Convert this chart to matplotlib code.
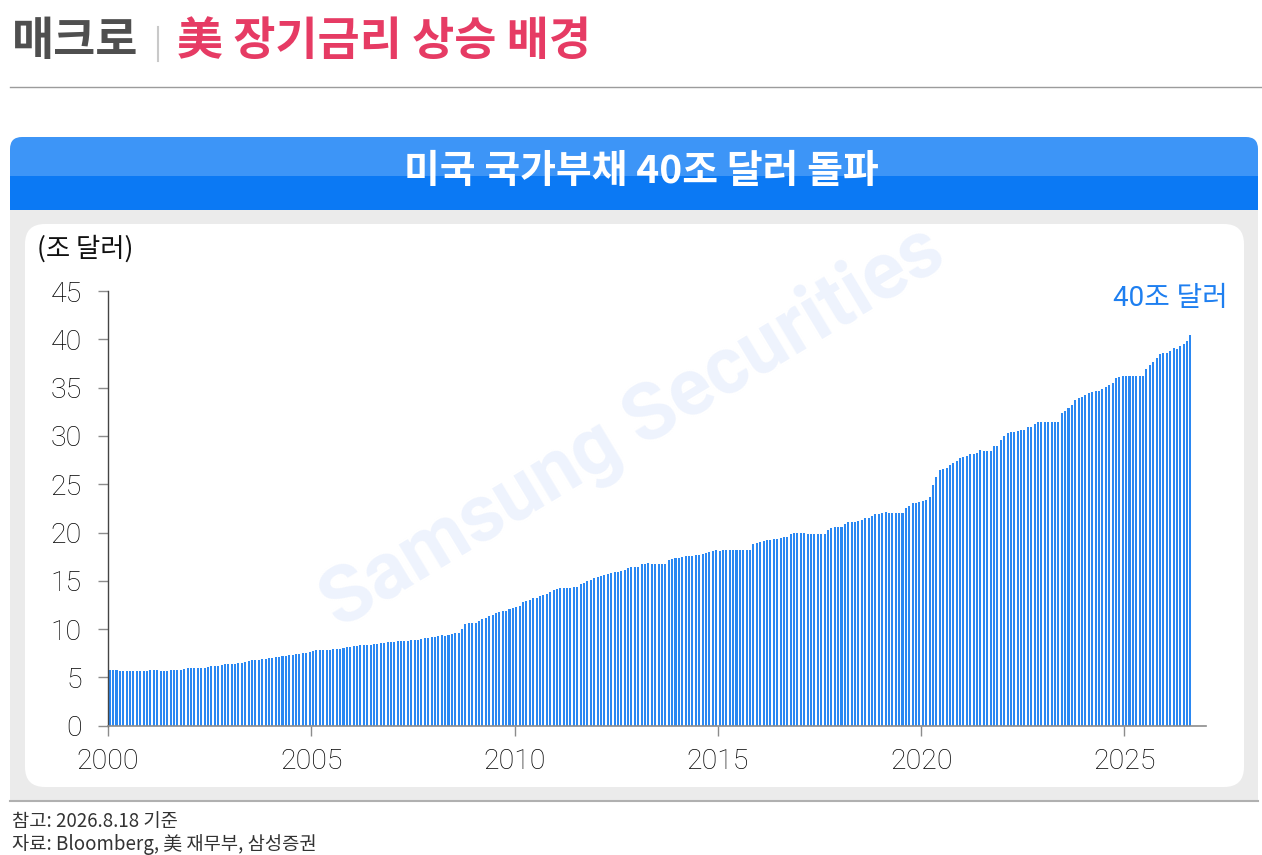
import numpy as np
import matplotlib
matplotlib.use('Agg')
import matplotlib.pyplot as plt
from matplotlib.patches import FancyBboxPatch, Rectangle

plt.rcParams['font.family'] = ['Roboto', 'Noto Sans CJK KR', 'DejaVu Sans']
plt.rcParams['axes.unicode_minus'] = False

KR = ['Noto Sans CJK KR', 'DejaVu Sans']
NUM = ['Roboto', 'Noto Sans CJK KR', 'DejaVu Sans']

# 미국 국가부채 월별 (조 달러), 2000.1 ~ 2026.8
debt_2000 = [5.75, 5.77, 5.77, 5.68, 5.66, 5.68, 5.66, 5.67, 5.67, 5.67, 5.70, 5.66]
debt_2001 = [5.72, 5.75, 5.77, 5.66, 5.66, 5.71, 5.72, 5.77, 5.81, 5.82, 5.89, 5.94]
debt_2002 = [5.94, 5.98, 6.00, 5.98, 6.02, 6.13, 6.16, 6.20, 6.23, 6.28, 6.34, 6.41]
debt_2003 = [6.40, 6.44, 6.46, 6.46, 6.56, 6.72, 6.76, 6.78, 6.80, 6.89, 6.94, 7.00]
debt_2004 = [7.03, 7.09, 7.16, 7.17, 7.24, 7.30, 7.34, 7.40, 7.45, 7.52, 7.58, 7.68]
debt_2005 = [7.76, 7.79, 7.79, 7.79, 7.82, 7.88, 7.92, 7.96, 7.98, 8.07, 8.13, 8.20]
debt_2006 = [8.23, 8.27, 8.35, 8.37, 8.37, 8.40, 8.44, 8.50, 8.55, 8.58, 8.62, 8.66]
debt_2007 = [8.68, 8.72, 8.77, 8.78, 8.80, 8.83, 8.86, 8.92, 8.95, 9.05, 9.10, 9.16]
debt_2008 = [9.20, 9.33, 9.36, 9.33, 9.38, 9.47, 9.55, 9.64, 10.00, 10.54, 10.62, 10.68]
debt_2009 = [10.63, 10.85, 11.06, 11.20, 11.34, 11.50, 11.64, 11.78, 11.88, 11.90, 12.05, 12.22]
debt_2010 = [12.28, 12.44, 12.77, 12.95, 13.05, 13.20, 13.24, 13.45, 13.56, 13.67, 13.86, 14.03]
debt_2011 = [14.15, 14.21, 14.26, 14.30, 14.30, 14.33, 14.33, 14.66, 14.80, 15.00, 15.13, 15.26]
debt_2012 = [15.40, 15.53, 15.62, 15.73, 15.80, 15.88, 15.95, 16.05, 16.13, 16.28, 16.38, 16.44]
debt_2013 = [16.45, 16.70, 16.77, 16.83, 16.72, 16.72, 16.72, 16.72, 16.72, 17.15, 17.25, 17.35]
debt_2014 = [17.33, 17.46, 17.62, 17.54, 17.53, 17.63, 17.69, 17.76, 17.84, 17.96, 18.04, 18.14]
debt_2015 = [18.10, 18.15, 18.15, 18.15, 18.15, 18.15, 18.15, 18.15, 18.15, 18.15, 18.84, 18.92]
debt_2016 = [19.05, 19.12, 19.26, 19.20, 19.30, 19.38, 19.42, 19.51, 19.57, 19.82, 19.95, 19.98]
debt_2017 = [19.94, 19.96, 19.87, 19.87, 19.86, 19.86, 19.86, 19.86, 20.25, 20.45, 20.59, 20.55]
debt_2018 = [20.55, 20.89, 21.10, 21.08, 21.14, 21.20, 21.33, 21.46, 21.50, 21.72, 21.87, 21.97]
debt_2019 = [21.98, 22.11, 22.03, 22.03, 22.03, 22.03, 22.03, 22.50, 22.72, 23.01, 23.08, 23.20]
debt_2020 = [23.22, 23.41, 23.69, 24.97, 25.75, 26.48, 26.53, 26.73, 26.95, 27.18, 27.42, 27.75]
debt_2021 = [27.78, 27.95, 28.13, 28.17, 28.23, 28.53, 28.43, 28.43, 28.43, 28.91, 28.91, 29.62]
debt_2022 = [30.01, 30.29, 30.40, 30.37, 30.50, 30.57, 30.60, 30.90, 30.93, 31.24, 31.41, 31.42]
debt_2023 = [31.45, 31.46, 31.46, 31.46, 31.46, 32.33, 32.61, 32.91, 33.17, 33.70, 33.88, 34.00]
debt_2024 = [34.20, 34.47, 34.59, 34.61, 34.67, 34.83, 35.10, 35.26, 35.46, 35.95, 36.09, 36.22]
debt_2025 = [36.22, 36.22, 36.21, 36.21, 36.21, 36.21, 36.95, 37.30, 37.70, 38.10, 38.45, 38.60]
debt_2026 = [38.62, 38.80, 39.10, 39.00, 39.30, 39.52, 39.80, 40.45]

years = list(range(2000, 2027))
debt_by_year = [debt_2000, debt_2001, debt_2002, debt_2003, debt_2004, debt_2005,
                debt_2006, debt_2007, debt_2008, debt_2009, debt_2010, debt_2011,
                debt_2012, debt_2013, debt_2014, debt_2015, debt_2016, debt_2017,
                debt_2018, debt_2019, debt_2020, debt_2021, debt_2022, debt_2023,
                debt_2024, debt_2025, debt_2026]

x_ticks = [2000, 2005, 2010, 2015, 2020, 2025]
y_ticks = [0, 5, 10, 15, 20, 25, 30, 35, 40, 45]

# 월 중앙 위치 (연 단위 소수)
xs, vals = [], []
for y, arr in zip(years, debt_by_year):
    for m, v in enumerate(arr):
        xs.append(y + (m + 0.5) / 12)
        vals.append(v)

fig = plt.figure(figsize=(12.62, 8.55), dpi=100)

# 배경 (픽셀 좌표)
bg = fig.add_axes([0, 0, 1, 1], zorder=0)
bg.set_xlim(0, 1262)
bg.set_ylim(855, 0)
bg.axis('off')

bg.plot([10, 1262], [87, 87], color='#9c9c9c', lw=1.0)

# 헤더 박스
bg.add_patch(FancyBboxPatch((10, 137), 1248, 60, boxstyle='round,pad=0,rounding_size=12',
                            fc='#3D95F7', ec='none'))
bg.add_patch(Rectangle((10, 176), 1248, 34, fc='#0B79F4', ec='none'))
bg.add_patch(Rectangle((10, 210), 1248, 590, fc='#EBEBEB', ec='none'))
bg.add_patch(FancyBboxPatch((25, 224), 1219, 563, boxstyle='round,pad=0,rounding_size=20',
                            fc='white', ec='none'))
bg.plot([10, 1258], [800.5, 800.5], color='#B0B0B0', lw=1.5)

# 제목
bg.text(12, 42, '매크로', family=KR, fontsize=33, fontweight='bold', color='#4F4F4F',
        ha='left', va='center')
bg.plot([158, 158], [27, 61], color='#C9C9C9', lw=1.5)
bg.text(177, 42, '美 장기금리 상승 배경', family=KR, fontsize=33, fontweight='bold',
        color='#E63B64', ha='left', va='center')
bg.text(641, 171, '미국 국가부채 40조 달러 돌파', family=KR, fontsize=28,
        fontweight='bold', color='white', ha='center', va='center')

# 워터마크
bg.text(633, 428, 'Samsung Securities', family=NUM, fontsize=57, fontweight='bold',
        color='#EEF3FD', rotation=31, ha='center', va='center', zorder=1)

bg.text(37, 249, '(조 달러)', family=KR, fontsize=19, color='#111111',
        ha='left', va='center')
bg.text(1228, 298, '40조 달러', family=NUM, fontsize=20, color='#1E7FF0',
        ha='right', va='center')

bg.text(12, 821, '참고: 2026.8.18 기준', family=KR, fontsize=13.5, color='#333333',
        ha='left', va='center')
bg.text(12, 844, '자료: Bloomberg, 美 재무부, 삼성증권', family=KR, fontsize=13.5,
        color='#333333', ha='left', va='center')

# 차트
ax = fig.add_axes([0.0856, 0.1512, 0.8698, 0.5084], zorder=2)
ax.patch.set_alpha(0)
ax.bar(xs, vals, width=0.6 / 12, color='#2B88F2', linewidth=0)

ax.set_xlim(2000, 2027)
ax.set_ylim(0, 45)
ax.set_xticks(x_ticks)
ax.set_xticklabels([str(t) for t in x_ticks])
ax.set_yticks(y_ticks)
ax.set_yticklabels([str(t) for t in y_ticks])

for s in ['top', 'right']:
    ax.spines[s].set_visible(False)
ax.spines['left'].set_color('#444444')
ax.spines['left'].set_linewidth(1.0)
ax.spines['bottom'].set_color('#8c8c8c')
ax.spines['bottom'].set_linewidth(1.2)

ax.tick_params(axis='y', direction='out', length=7, width=1, color='#8c8c8c',
               pad=12, labelsize=20.5, labelcolor='#000000')
ax.tick_params(axis='x', direction='out', length=7, width=1, color='#8c8c8c',
               pad=9, labelsize=20.5, labelcolor='#000000')
for lab in ax.get_xticklabels() + ax.get_yticklabels():
    lab.set_fontweight('light')

fig.savefig('out.png', dpi=100)
